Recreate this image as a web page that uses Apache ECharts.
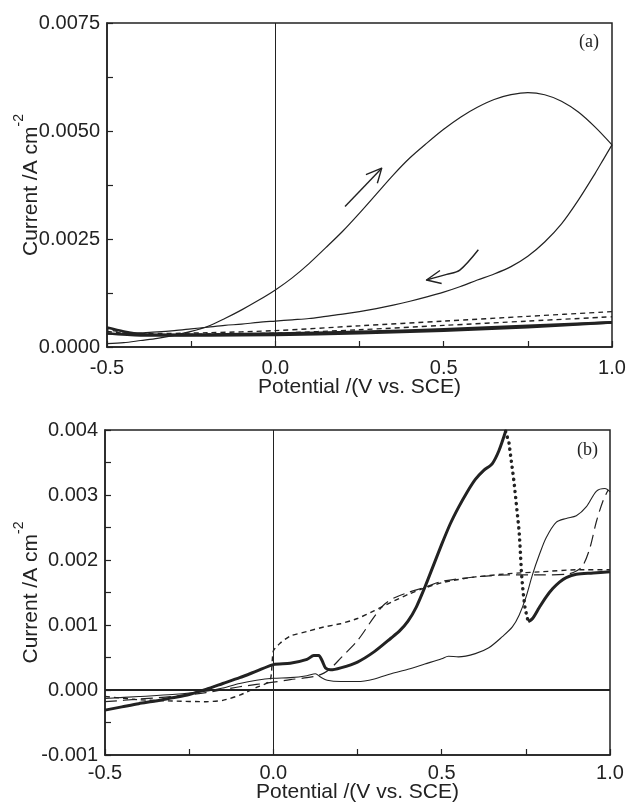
<!DOCTYPE html>
<html>
<head>
<meta charset="utf-8">
<script src="https://cdn.jsdelivr.net/npm/echarts@6/dist/echarts.min.js"></script>
<style>
html,body{margin:0;padding:0;background:#fff;}
#chart{width:627px;height:807px;}
</style>
</head>
<body>
<div id="chart"></div>
<script>
// ---------- tick labels ----------
const potentialTicks = [-0.5, 0.0, 0.5, 1.0];
const potentialTickLabels = ['-0.5', '0.0', '0.5', '1.0'];
const currentTicksA = [0, 0.0025, 0.005, 0.0075];
const currentTickLabelsA = ['0.0000', '0.0025', '0.0050', '0.0075'];
const currentTicksB = [-0.001, 0, 0.001, 0.002, 0.003, 0.004];
const currentTickLabelsB = ['-0.001', '0.000', '0.001', '0.002', '0.003', '0.004'];
const xAxisTitle = 'Potential /(V vs. SCE)';
const panelLabels = ['(a)', '(b)'];

// ---------- panel (a) : [potential V, current A cm^-2] ----------
const aThinForward = [
  [-0.5, 0.00008], [-0.45, 0.0001], [-0.4, 0.00015], [-0.35, 0.0002], [-0.3, 0.00027],
  [-0.25, 0.00036], [-0.2, 0.00048], [-0.15, 0.00066], [-0.1, 0.00086], [-0.05, 0.00108],
  [0.0, 0.00132], [0.05, 0.0016], [0.1, 0.00193], [0.15, 0.0023], [0.2, 0.00268],
  [0.25, 0.0031], [0.3, 0.00354], [0.35, 0.00398], [0.4, 0.00438], [0.45, 0.00472],
  [0.5, 0.00504], [0.55, 0.00532], [0.6, 0.00555], [0.65, 0.00573], [0.7, 0.00584],
  [0.75, 0.00589], [0.8, 0.00584], [0.85, 0.00569], [0.9, 0.00544], [0.95, 0.00509],
  [1.0, 0.00468]
];
const aThinReverse = [
  [1.0, 0.00468], [0.975, 0.00435], [0.95, 0.00402], [0.9, 0.0034], [0.85, 0.00285],
  [0.8, 0.00243], [0.75, 0.0021], [0.7, 0.00186], [0.65, 0.00169], [0.6, 0.00155],
  [0.55, 0.0014], [0.5, 0.00127], [0.45, 0.00116], [0.4, 0.00106], [0.35, 0.00097],
  [0.3, 0.00089], [0.25, 0.00082], [0.2, 0.00076], [0.15, 0.00071], [0.1, 0.00066],
  [0.05, 0.00063], [0.0, 0.0006], [-0.05, 0.00057], [-0.1, 0.00053], [-0.15, 0.0005],
  [-0.2, 0.00046], [-0.25, 0.00042], [-0.3, 0.00038], [-0.35, 0.00035], [-0.4, 0.00033],
  [-0.45, 0.00031], [-0.5, 0.0003]
];
const aDashForward = [
  [-0.5, 0.00036], [-0.4, 0.00029], [-0.2, 0.0003], [0.0, 0.00032], [0.25, 0.0004],
  [0.5, 0.0005], [0.75, 0.0006], [1.0, 0.0007]
];
const aDashReverse = [
  [1.0, 0.00082], [0.75, 0.00071], [0.5, 0.0006], [0.25, 0.00049], [0.0, 0.00038],
  [-0.2, 0.00033], [-0.4, 0.00031], [-0.5, 0.0004]
];
const aThickForward = [
  [-0.5, 0.00045], [-0.45, 0.00036], [-0.4, 0.0003], [-0.3, 0.00028], [-0.2, 0.00029],
  [-0.1, 0.0003], [0.0, 0.00031], [0.25, 0.00035], [0.5, 0.00041], [0.75, 0.00049], [1.0, 0.00057]
];
const aThickReverse = [
  [1.0, 0.00057], [0.75, 0.00046], [0.5, 0.00038], [0.25, 0.00032], [0.0, 0.00028],
  [-0.2, 0.00027], [-0.4, 0.00027], [-0.5, 0.00032]
];
// direction arrows (annotation): shaft and open head
const arrowUpShaft = [[0.207, 0.00325], [0.316, 0.00414]];
const arrowUpHead = [[0.269, 0.00399], [0.316, 0.00414], [0.303, 0.00379]];
const arrowDownShaft = [[0.603, 0.00225], [0.548, 0.00178], [0.509, 0.00168], [0.449, 0.00155]];
const arrowDownHead = [[0.489, 0.00177], [0.449, 0.00155], [0.494, 0.00147]];

// ---------- panel (b) ----------
const bThickSolid = [
  [-0.5, -0.00031], [-0.45, -0.00026], [-0.4, -0.00021], [-0.35, -0.00017], [-0.3, -0.00012],
  [-0.25, -0.00007], [-0.2, 0.00001], [-0.15, 0.0001], [-0.1, 0.00019], [-0.05, 0.00029],
  [0.0, 0.00039], [0.05, 0.00041], [0.1, 0.00047], [0.12, 0.00053], [0.135, 0.00053],
  [0.145, 0.00045], [0.155, 0.00034], [0.17, 0.00031], [0.2, 0.00034], [0.25, 0.00043],
  [0.3, 0.00059], [0.35, 0.0008], [0.375, 0.00091], [0.4, 0.00106], [0.425, 0.00128],
  [0.45, 0.00158], [0.475, 0.00191], [0.5, 0.00224], [0.525, 0.00255], [0.55, 0.00281],
  [0.575, 0.00304], [0.6, 0.00324], [0.625, 0.00338], [0.65, 0.00348], [0.67, 0.00368],
  [0.69, 0.00398]
];
const bThickDotted = [
  [0.69, 0.00398], [0.7, 0.0038], [0.705, 0.0036], [0.71, 0.0034], [0.715, 0.0032],
  [0.72, 0.00295], [0.725, 0.0027], [0.73, 0.00245], [0.733, 0.0022], [0.737, 0.0018],
  [0.742, 0.0015], [0.748, 0.00125], [0.757, 0.00105]
];
const bThickReturn = [
  [0.757, 0.00105], [0.77, 0.0011], [0.79, 0.00127], [0.81, 0.00143], [0.83, 0.00156],
  [0.85, 0.00166], [0.87, 0.00173], [0.9, 0.00178], [0.95, 0.0018], [1.0, 0.00182]
];
const bThin = [
  [-0.5, -0.00013], [-0.4, -0.0001], [-0.3, -0.00007], [-0.2, -0.00002], [-0.15, 0.00003],
  [-0.1, 0.0001], [-0.05, 0.00015], [0.0, 0.00018], [0.05, 0.00019], [0.1, 0.00022],
  [0.125, 0.00025], [0.14, 0.0002], [0.16, 0.00015], [0.2, 0.00013], [0.25, 0.00013],
  [0.3, 0.00017], [0.35, 0.00025], [0.4, 0.00032], [0.45, 0.0004], [0.5, 0.00048],
  [0.52, 0.00052], [0.55, 0.00051], [0.6, 0.00056], [0.64, 0.00065], [0.68, 0.00082],
  [0.71, 0.00097], [0.73, 0.00115], [0.75, 0.00142], [0.77, 0.00178], [0.79, 0.00208],
  [0.81, 0.00234], [0.84, 0.00258], [0.87, 0.00264], [0.9, 0.00268], [0.93, 0.00282],
  [0.96, 0.00306], [0.985, 0.0031], [1.0, 0.00305]
];
const bShortDash = [
  [-0.5, -0.0001], [-0.4, -0.00015], [-0.3, -0.00017], [-0.2, -0.00018], [-0.15, -0.00016],
  [-0.1, -0.00008], [-0.05, 0.00004], [-0.01, 0.00014], [0.0, 0.0006], [0.02, 0.00072],
  [0.05, 0.00083], [0.1, 0.0009], [0.15, 0.00097], [0.2, 0.00102], [0.25, 0.0011],
  [0.3, 0.00122], [0.35, 0.00135], [0.4, 0.00147], [0.45, 0.00157], [0.5, 0.00165],
  [0.55, 0.0017], [0.6, 0.00174], [0.7, 0.00179], [0.8, 0.00182], [0.9, 0.00185], [1.0, 0.00185]
];
const bLongDash = [
  [-0.5, -0.00018], [-0.4, -0.00014], [-0.3, -0.0001], [-0.2, -0.00004], [-0.1, 0.00005],
  [0.0, 0.00012], [0.05, 0.00016], [0.1, 0.00019], [0.13, 0.00022], [0.15, 0.00026],
  [0.17, 0.00033], [0.2, 0.00049], [0.25, 0.00076], [0.3, 0.00113], [0.33, 0.00132],
  [0.36, 0.00142], [0.4, 0.0015], [0.45, 0.00158], [0.5, 0.00167], [0.6, 0.00174],
  [0.7, 0.00177], [0.8, 0.00177], [0.87, 0.00178], [0.9, 0.00183], [0.92, 0.00192],
  [0.94, 0.00218], [0.96, 0.0026], [0.98, 0.00292], [0.995, 0.00308]
];

// ---------- chart ----------
const INK = '#222';
const FONT = 'Liberation Sans';
function lookup(ticks, labels) {
  return function (v) {
    const i = ticks.findIndex(t => Math.abs(t - v) < 1e-9);
    return i >= 0 ? labels[i] : '';
  };
}
function xAxisFor(gi, margin, gap) {
  return {
    type: 'value', gridIndex: gi, min: -0.5, max: 1.0, interval: 0.25,
    axisLine: { show: true, onZero: false, lineStyle: { color: INK, width: 1.5 } },
    axisTick: { show: true, inside: true, length: 6, lineStyle: { color: INK, width: 1.2 } },
    axisLabel: { margin: margin, fontFamily: FONT, fontSize: 20, color: INK,
      formatter: lookup(potentialTicks, potentialTickLabels) },
    splitLine: { show: false },
    name: xAxisTitle, nameLocation: 'middle', nameGap: gap, nameMoveOverlap: false,
    nameTextStyle: { fontFamily: FONT, fontSize: 21, color: INK }
  };
}
function yAxisFor(gi, min, max, interval, ticks, labels, gap) {
  return {
    type: 'value', gridIndex: gi, min: min, max: max, interval: interval,
    axisLine: { show: true, onZero: false, lineStyle: { color: INK, width: 1.5 } },
    axisTick: { show: true, inside: true, length: 6, lineStyle: { color: INK, width: 1.2 } },
    axisLabel: { margin: 7, fontFamily: FONT, fontSize: 20, color: INK, formatter: lookup(ticks, labels) },
    splitLine: { show: false },
    name: '{m|Current /A cm}{s|-2}', nameLocation: 'middle', nameGap: gap, nameRotate: 90,
    nameMoveOverlap: false,
    nameTextStyle: {
      fontFamily: FONT, fontSize: 21, color: INK,
      rich: {
        m: { fontFamily: FONT, fontSize: 21, color: INK, lineHeight: 30, verticalAlign: 'bottom' },
        s: { fontFamily: FONT, fontSize: 14, color: INK, lineHeight: 14, verticalAlign: 'top' }
      }
    }
  };
}
function lineSeries(gi, data, width, dash, extra) {
  return Object.assign({
    type: 'line', xAxisIndex: gi, yAxisIndex: gi, data: data, symbol: 'none',
    smooth: 0.3, silent: true, animation: false, clip: true,
    lineStyle: { color: INK, width: width, type: dash || 'solid', cap: 'butt', join: 'round' }
  }, extra || {});
}
const gridBase = { show: true, borderColor: INK, borderWidth: 1.5, backgroundColor: 'transparent',
  containLabel: false, outerBoundsMode: 'none' };

const chart = echarts.init(document.getElementById('chart'), null, { renderer: 'canvas' });
chart.setOption({
  backgroundColor: '#fff',
  animation: false,
  grid: [
    Object.assign({ left: 107, top: 23, width: 505, height: 324 }, gridBase),
    Object.assign({ left: 105, top: 430, width: 505, height: 325 }, gridBase)
  ],
  xAxis: [xAxisFor(0, 11, 30), xAxisFor(1, 8, 27)],
  yAxis: [
    yAxisFor(0, 0, 0.0075, 0.00125, currentTicksA, currentTickLabelsA, 65),
    yAxisFor(1, -0.001, 0.004, 0.0005, currentTicksB, currentTickLabelsB, 63)
  ],
  graphic: [
    { type: 'text', left: 579, top: 33, style: { text: panelLabels[0], font: '18px "Liberation Serif"', fill: INK } },
    { type: 'text', left: 577, top: 441, style: { text: panelLabels[1], font: '18px "Liberation Serif"', fill: INK } }
  ],
  series: [
    lineSeries(0, aThinForward, 1.2, 'solid', {
      markLine: { silent: true, symbol: ['none', 'none'], label: { show: false }, animation: false,
        lineStyle: { color: INK, width: 1, type: 'solid' }, data: [{ xAxis: 0 }] }
    }),
    lineSeries(0, aThinReverse, 1.2),
    lineSeries(0, aDashForward, 1.4, [5, 4]),
    lineSeries(0, aDashReverse, 1.4, [5, 4]),
    lineSeries(0, aThickForward, 2.6),
    lineSeries(0, aThickReverse, 2.6),
    lineSeries(0, arrowUpShaft, 1.4, 'solid', { smooth: false }),
    lineSeries(0, arrowUpHead, 1.4, 'solid', { smooth: false }),
    lineSeries(0, arrowDownShaft, 1.4, 'solid', { smooth: 0.3 }),
    lineSeries(0, arrowDownHead, 1.4, 'solid', { smooth: false }),

    lineSeries(1, bThin, 1.1, 'solid', {
      markLine: { silent: true, symbol: ['none', 'none'], label: { show: false }, animation: false,
        data: [
          { xAxis: 0, lineStyle: { color: INK, width: 1, type: 'solid' } },
          { yAxis: 0, lineStyle: { color: INK, width: 2, type: 'solid' } }
        ] }
    }),
    lineSeries(1, bShortDash, 1.4, [5, 4], { smooth: 0.2 }),
    lineSeries(1, bLongDash, 1.2, [12, 6]),
    lineSeries(1, bThickSolid, 3, 'solid', { smooth: 0.25 }),
    lineSeries(1, bThickDotted, 3.5, [0.1, 6], { smooth: false, lineStyle: { color: INK, width: 3.5, type: [0.1, 6], cap: 'round' } }),
    lineSeries(1, bThickReturn, 3)
  ]
});
</script>
</body>
</html>
